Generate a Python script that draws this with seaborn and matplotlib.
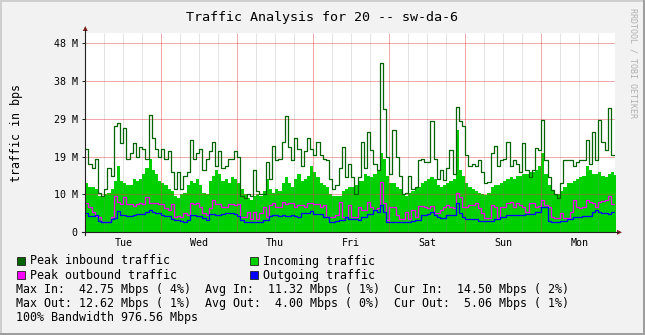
import numpy as np
import pandas as pd
import matplotlib
matplotlib.use("Agg")
import matplotlib.pyplot as plt
import seaborn as sns
from matplotlib.lines import Line2D
from matplotlib.patches import Rectangle, Polygon

# Hourly samples (10^6 bit/s) starting Tuesday 00:00
peak_in = [
    22, 18, 17, 19.5, 10.5, 9.5, 11.5, 17, 15, 28,
    29, 23.5, 27.5, 19.5, 21, 23.5, 20, 22.5, 22, 19.5,
    31, 25, 22, 20, 22, 19.5, 21.5, 16, 11.5, 16,
    11.5, 15, 16, 24.5, 19.5, 21, 22, 16.5, 19.5, 21.5,
    24, 17.5, 21.5, 17, 17.5, 19.5, 19.5, 21.5, 20, 9.5,
    9, 10, 9.5, 16.5, 11, 10, 10, 18.5, 14, 22.8,
    19, 19.5, 24, 30.8, 22.5, 19, 25, 22, 17.5, 21.5,
    25, 22, 20.5, 24, 20.5, 19.5, 19, 14, 11.5, 12.5,
    17, 22.5, 14.5, 18, 14.5, 10, 14.5, 24, 17, 26.5,
    21.8, 18, 16.5, 44.8, 32.5, 20, 15.5, 27, 20, 15,
    10, 10.5, 15, 11.5, 12, 19, 19.3, 18.5, 18.5, 29.5,
    19.5, 14, 16.5, 13.8, 17, 21.8, 15.5, 33.2, 29.3, 28,
    20.4, 17.4, 18, 17.4, 19, 16, 13, 13.2, 20.9, 22.8,
    17.4, 19, 19.5, 24, 17.5, 19, 18, 16, 23.5, 16.5,
    14.7, 16.5, 22.2, 21.8, 29.7, 19, 14.7, 11.2, 10, 9.2,
    13, 19, 19.2, 19, 17.5, 18.5, 19, 19, 24.4, 18,
    26.6, 19, 29.7, 24, 21.8, 32.8, 20.5, 20.5,
]
incoming = [
    13, 12, 12, 11.5, 9.5, 9.5, 10, 10.5, 11.5, 13.5,
    17.5, 13.5, 13, 12.5, 12.5, 14, 13.5, 14, 15.5, 17,
    19.5, 16.5, 15.5, 13.5, 13, 12.5, 11.5, 11, 9.5, 9,
    10, 10.5, 12.5, 13.5, 13, 14, 12.5, 10.5, 10, 13.5,
    15, 16.5, 15.5, 13.5, 14, 13, 14.5, 14, 13, 11.5,
    10, 9, 8.5, 9.5, 10, 9.5, 11, 14, 11.5, 10.5,
    11.5, 11, 13, 14.5, 13, 12, 14, 15.5, 13.5, 14,
    15, 17.5, 16, 14.5, 13, 12.5, 12, 10, 9.5, 9.5,
    9.5, 11, 11.5, 12, 12, 12.5, 13.5, 13.5, 15.5, 15,
    14.5, 15.5, 16.5, 21, 19.5, 15, 13, 13, 12, 11.5,
    10, 9.5, 10.5, 11, 12, 12, 13, 13.5, 14, 14.5,
    14, 12.5, 12, 12.5, 13, 13.5, 14, 27, 16.5, 15,
    13, 12, 11.5, 11, 10.5, 10, 9.8, 10.5, 12, 12.5,
    12.5, 13, 13.5, 14, 14.5, 14, 15, 15, 15.5, 15.5,
    16, 16, 16.5, 17.5, 21, 15.5, 12.5, 11, 10, 10,
    11, 12, 13, 13, 13.5, 14, 14.5, 15, 17.5, 16.5,
    15.5, 15.5, 16, 15, 14.5, 15.5, 16, 15.2,
]
peak_out = [
    7.8, 6.8, 5.5, 4.2, 4, 2.8, 2.8, 2.8, 4, 9.6,
    8, 7.5, 9.4, 7.5, 7.5, 7, 7.5, 7.7, 7.5, 9.4,
    7.7, 7.7, 7.7, 7.5, 7.5, 6.5, 6, 7.5, 4, 4.2,
    4, 5, 4.5, 7.7, 7.5, 7.7, 6.8, 5, 4.5, 6.5,
    8.5, 7.5, 7.5, 6.8, 6.8, 7.5, 7.5, 7.2, 7.5, 4,
    4, 5.5, 3.5, 5.5, 3.5, 5, 6.8, 4.1, 7.2, 7.7,
    6.8, 6.8, 8.1, 7.5, 7.7, 7.7, 6.8, 7.2, 7.2, 6.8,
    7.7, 7.7, 7.6, 7.6, 6.8, 7.2, 4.1, 4, 4, 4.5,
    8.1, 4.1, 4.1, 7.2, 4.1, 4.1, 6.8, 5.9, 5.9, 8.1,
    6.8, 5.9, 6.3, 13.2, 7.7, 3.3, 6.8, 6.8, 4.5, 3.4,
    3.4, 5.5, 3.4, 6, 4.1, 7, 7, 6.8, 6.5, 7,
    5, 5, 5.9, 6.8, 7.2, 6.8, 6.4, 10.3, 9.4, 6.8,
    6.8, 7.2, 7.2, 7.7, 6.4, 5, 3.7, 3.7, 7.2, 6.8,
    3.7, 6.8, 6.8, 7.7, 8.1, 6.8, 7.7, 7.2, 6.8, 5.5,
    7.7, 7.7, 6.8, 7, 8.6, 7.2, 6.8, 4.1, 3.7, 3.7,
    5, 3.7, 3.7, 5.5, 8.6, 6.8, 6.4, 6.8, 8.6, 8.1,
    7.7, 6.8, 8.1, 8.4, 8.6, 9.6, 7.5, 7.5,
]
outgoing = [
    5, 4.2, 4.2, 4.5, 3, 2.8, 2.8, 2.8, 3.6, 3.8,
    5.7, 4.6, 4.6, 4.3, 4.3, 4.5, 4.8, 4.8, 4.8, 5.5,
    5.8, 5.4, 5.2, 5, 4.6, 4.4, 4.3, 3.5, 3.3, 3.3,
    2.9, 2.8, 3.2, 4.6, 4.6, 4.3, 4.4, 3.8, 3.3, 4.8,
    4.8, 4.6, 4.6, 4.8, 5, 5.1, 5, 4.8, 4.2, 3.2,
    2.8, 2.8, 2.7, 2.8, 2.6, 2.7, 3.2, 3.3, 4.2, 4.6,
    4.6, 4.3, 4.6, 4.2, 4.2, 4.6, 4.4, 4.1, 5, 5,
    5.2, 5.7, 4.8, 4.8, 4.8, 4.1, 4.1, 2.8, 2.8, 2.9,
    3.3, 3.3, 4, 3.4, 3.4, 3.4, 3.3, 4.1, 4.1, 4.8,
    4.8, 5.9, 5.5, 7.2, 5.5, 2.8, 2.8, 2.8, 2.8, 2.8,
    2.8, 2.8, 2.8, 2.9, 3.2, 3.3, 4.5, 4.6, 4.8, 5.5,
    4.5, 4.1, 3.7, 3.7, 4.6, 4.6, 4.6, 7.7, 5, 4.1,
    3.4, 3.4, 3.4, 3.6, 3.1, 3.1, 3.1, 3.1, 3.1, 3.6,
    3.6, 4.1, 4.1, 4.6, 4.6, 4.6, 4.6, 4.6, 4.6, 4.8,
    4.8, 4.8, 5.5, 5.5, 6.6, 6.6, 3.1, 2.8, 2.6, 2.6,
    3.1, 3.1, 3.4, 3.4, 4, 4, 4, 4.2, 4.4, 4.4,
    5.5, 5.9, 5.5, 5.1, 5, 4.8, 5.5, 5.3,
]

days = ["Tue", "Wed", "Thu", "Fri", "Sat", "Sun", "Mon"]
y_ticks = [0, 10, 20, 30, 40, 50]
y_labels = ["0", "10 M", "19 M", "29 M", "38 M", "48 M"]

title = "Traffic Analysis for 20 -- sw-da-6"
legend_items = [
    ("Peak inbound traffic", "#006400"),
    ("Incoming traffic", "#00CF00"),
    ("Peak outbound traffic", "#FF00FF"),
    ("Outgoing traffic", "#0000FF"),
]
stat_lines = [
    "Max In:  42.75 Mbps ( 4%)  Avg In:  11.32 Mbps ( 1%)  Cur In:  14.50 Mbps ( 2%)",
    "Max Out: 12.62 Mbps ( 1%)  Avg Out:  4.00 Mbps ( 0%)  Cur Out:  5.06 Mbps ( 1%)",
    "100% Bandwidth 976.56 Mbps",
]

MONO = "DejaVu Sans Mono"
plt.rcParams["font.family"] = MONO

W, H = 645, 335
fig = plt.figure(figsize=(W / 100, H / 100), dpi=100, facecolor="#F2F2F2")


def fx(px):
    return px / W


def fy(py):
    return 1 - py / H


x0, x1, ytop, ybot = 85.3, 615.0, 33.0, 232.3
ax = fig.add_axes([fx(x0), fy(ybot), fx(x1) - fx(x0), fy(ytop) - fy(ybot)])
ax.set_facecolor("white")

# step series: repeat the last sample so the final hour is drawn
hours = np.arange(len(incoming) + 1)


def ext(vals):
    return list(vals) + [vals[-1]]


line_names = ["Peak inbound traffic", "Peak outbound traffic", "Outgoing traffic"]
df = pd.DataFrame({
    "hour": np.tile(hours, 3),
    "bps": ext(peak_in) + ext(peak_out) + ext(outgoing),
    "series": np.repeat(line_names, len(hours)),
})

ax.fill_between(hours, ext(incoming), step="post", color="#00CF00",
                linewidth=0, zorder=2)
sns.lineplot(data=df, x="hour", y="bps", hue="series", hue_order=line_names,
             palette=["#006400", "#FF00FF", "#0000FF"], drawstyle="steps-post",
             linewidth=0.9, estimator=None, sort=False, legend=False, ax=ax,
             zorder=4)

# grid on top of the area: gray every 6 hours, red at midnight and every 10 Mbit
minor_col = (0.50, 0.50, 0.50, 0.22)
major_col = (0.88, 0.25, 0.25, 0.45)
minor_x = [h for h in range(6, 168, 6) if h % 24]
major_x = [h for h in range(24, 168, 24)]
for h in minor_x:
    ax.plot([h, h], [0, 52.7], color=minor_col, lw=0.72, zorder=3,
            solid_capstyle="butt")
for h in major_x:
    ax.plot([h, h], [0, 52.7], color=major_col, lw=0.72, zorder=3.1,
            solid_capstyle="butt")
for v in y_ticks[1:]:
    ax.plot([0, 167.3], [v, v], color=major_col, lw=0.72, zorder=3.1,
            solid_capstyle="butt")

ax.set_xlim(0, 167.3)
ax.set_ylim(0, 52.7)
ax.set_xticks([12 + 24 * i for i in range(len(days))])
ax.set_xticklabels(days, fontsize=7.2, family=MONO)
ax.set_yticks(y_ticks)
ax.set_yticklabels(y_labels, fontsize=7.2, family=MONO)
ax.tick_params(axis="x", length=0, pad=4.2)
ax.tick_params(axis="y", length=2.2, width=0.7, color="#1F1F1F", pad=3.2)
ax.set_xlabel("")
ax.set_ylabel("")
ax.grid(False)
for s in ax.spines.values():
    s.set_visible(False)

# axes with arrow heads
axis_col, arrow_col = "#1F1F1F", "#7F1F1F"
fig.add_artist(Line2D([fx(x0), fx(x0)], [fy(235), fy(30)], color=axis_col, lw=0.8))
fig.add_artist(Line2D([fx(82), fx(618)], [fy(ybot), fy(ybot)], color=axis_col, lw=0.8))
fig.add_artist(Polygon([[fx(x0 - 2.5), fy(31)], [fx(x0 + 2.5), fy(31)], [fx(x0), fy(26)]],
                       closed=True, color=arrow_col, lw=0))
fig.add_artist(Polygon([[fx(617), fy(ybot - 2.5)], [fx(617), fy(ybot + 2.5)], [fx(622), fy(ybot)]],
                       closed=True, color=arrow_col, lw=0))

# frame shading
fig.add_artist(Rectangle((0, fy(2)), 1, 2 / H, color="#CFCFCF", lw=0))
fig.add_artist(Rectangle((0, 0), 2 / W, 1, color="#CFCFCF", lw=0))
fig.add_artist(Rectangle((0, 0), 1, 2 / H, color="#9E9E9E", lw=0))
fig.add_artist(Rectangle((1 - 2 / W, 0), 2 / W, 1, color="#9E9E9E", lw=0))

fig.text(0.5, fy(17), title, ha="center", va="center", fontsize=9.6, family=MONO)
fig.text(fx(17), fy(132.6), "traffic in bps", rotation=90, ha="center", va="center",
         fontsize=8.4, family=MONO)
fig.text(fx(633), fy(8), "RRDTOOL / TOBI OETIKER", rotation=-90, ha="center", va="top",
         fontsize=6, family=MONO, color="#B0B0B0")

# legend rows
rows_y = [261, 275.3]
cols_x = [16.5, 249.7]
for i, (label, col) in enumerate(legend_items):
    bx = cols_x[i % 2]
    by = rows_y[i // 2]
    fig.add_artist(Rectangle((fx(bx), fy(by + 4)), 8 / W, 8 / H, facecolor=col,
                             edgecolor="#202020", lw=0.6))
    fig.text(fx(bx + 13.3), fy(by), label, ha="left", va="center", fontsize=8.37, family=MONO)

for j, line in enumerate(stat_lines):
    fig.text(fx(16.5), fy(289.3 + 14.2 * j), line, ha="left", va="center",
             fontsize=8.37, family=MONO)

fig.savefig("out.png", dpi=100, facecolor=fig.get_facecolor())
